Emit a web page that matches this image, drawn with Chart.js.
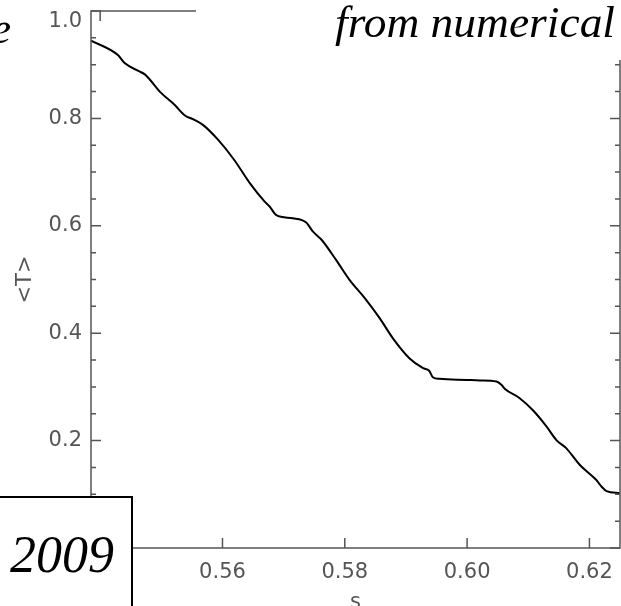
<!DOCTYPE html>
<html><head><meta charset="utf-8">
<script src="https://cdn.jsdelivr.net/npm/chart.js@4"></script>
<style>html,body{margin:0;padding:0;background:#fff;overflow:hidden}#wrap{width:621px;height:606px;position:relative}</style>
</head><body><div id="wrap"><canvas id="c" width="621" height="606"></canvas></div>
<script>
const sValues = [0.5385, 0.5429, 0.5440, 0.5465, 0.5473, 0.5500, 0.5522, 0.5538, 0.5555, 0.5568, 0.5593, 0.5619, 0.5645, 0.5669, 0.5677, 0.5688, 0.5715, 0.5737, 0.5748, 0.5762, 0.5786, 0.5808, 0.5833, 0.5857, 0.5879, 0.5906, 0.5928, 0.5938, 0.5944, 0.5955, 0.5999, 0.6021, 0.6048, 0.6056, 0.6062, 0.6086, 0.6108, 0.6130, 0.6146, 0.6162, 0.6184, 0.6211, 0.6220, 0.6228, 0.6250];
const tValues = [0.945, 0.918, 0.903, 0.887, 0.882, 0.847, 0.825, 0.806, 0.797, 0.788, 0.760, 0.723, 0.679, 0.645, 0.636, 0.620, 0.614, 0.606, 0.589, 0.574, 0.536, 0.499, 0.465, 0.428, 0.390, 0.353, 0.335, 0.330, 0.318, 0.315, 0.313, 0.312, 0.310, 0.304, 0.296, 0.279, 0.256, 0.226, 0.201, 0.186, 0.155, 0.127, 0.114, 0.106, 0.102];
const xTickValues = [0.54, 0.56, 0.58, 0.60, 0.62];
const yTickValues = [0.0, 0.2, 0.4, 0.6, 0.8, 1.0];
const yMinorValues = [0.05,0.1,0.15,0.25,0.3,0.35,0.45,0.5,0.55,0.65,0.7,0.75,0.85,0.9,0.95];
const xTitle = 's';
const yTitle = '<T>';
const headText = 'from numerical';
const leftFragment = 'e';
const yearText = '2009';

const FRAME = '#555';
const LABEL = '#555';
const FONT = 'DejaVu Sans';
const SERIF = '"Liberation Serif", "Times New Roman", Times, serif';

const overlay = {
  id: 'overlay',
  afterDraw(chart) {
    const ctx = chart.ctx, xs = chart.scales.x, ys = chart.scales.y, a = chart.chartArea;
    ctx.save();
    ctx.strokeStyle = FRAME; ctx.lineWidth = 1.5;
    ctx.beginPath();
    ctx.rect(a.left, a.top, a.right - a.left, a.bottom - a.top);
    ctx.stroke();
    ctx.beginPath();
    yTickValues.forEach(v => {
      const y = ys.getPixelForValue(v);
      ctx.moveTo(a.left, y); ctx.lineTo(a.left + 10, y);
      ctx.moveTo(a.right, y); ctx.lineTo(a.right - 10, y);
    });
    yMinorValues.forEach(v => {
      const y = ys.getPixelForValue(v);
      ctx.moveTo(a.left, y); ctx.lineTo(a.left + 5, y);
      ctx.moveTo(a.right, y); ctx.lineTo(a.right - 5, y);
    });
    xTickValues.forEach(v => {
      const x = xs.getPixelForValue(v);
      ctx.moveTo(x, a.bottom); ctx.lineTo(x, a.bottom - 10);
      ctx.moveTo(x, a.top); ctx.lineTo(x, a.top + 10);
    });
    ctx.stroke();
    // axis titles
    ctx.fillStyle = LABEL;
    ctx.font = '21px "' + FONT + '"';
    ctx.textAlign = 'center'; ctx.textBaseline = 'alphabetic';
    ctx.fillText(xTitle, (a.left + a.right) / 2, 608);
    ctx.save();
    ctx.translate(31, (a.top + a.bottom) / 2);
    ctx.rotate(-Math.PI / 2);
    ctx.fillText(yTitle, 0, 0);
    ctx.restore();
    // white text box at top right
    ctx.fillStyle = '#fff';
    ctx.fillRect(196, 0, 430, 60);
    ctx.fillStyle = '#000';
    ctx.font = 'italic 44px ' + SERIF;
    ctx.textAlign = 'left';
    const w = ctx.measureText(headText).width;
    ctx.save();
    ctx.translate(335, 37);
    ctx.scale(280 / w, 1);
    ctx.fillText(headText, 0, 0);
    ctx.restore();
    ctx.textAlign = 'right';
    ctx.fillText(leftFragment, 11, 43);
    // year box
    ctx.fillStyle = '#fff';
    ctx.fillRect(-5, 497, 137, 120);
    ctx.strokeStyle = '#000'; ctx.lineWidth = 2;
    ctx.strokeRect(-5, 497, 137, 120);
    ctx.fillStyle = '#000';
    ctx.font = 'italic 52px ' + SERIF;
    ctx.textAlign = 'left';
    ctx.fillText(yearText, 10, 572);
    ctx.restore();
  }
};

function build() {
  new Chart(document.getElementById('c'), {
    type: 'line',
    data: {
      datasets: [{
        data: sValues.map((s, i) => ({ x: s, y: tValues[i] })),
        borderColor: '#000', borderWidth: 2, pointRadius: 0,
        cubicInterpolationMode: 'monotone', fill: false
      }]
    },
    options: {
      responsive: false, animation: false,
      layout: { padding: { top: 11, right: 1, left: 0, bottom: 0 } },
      plugins: { legend: { display: false }, tooltip: { enabled: false } },
      scales: {
        x: {
          type: 'linear', min: 0.5385, max: 0.625,
          afterBuildTicks: s => { s.ticks = xTickValues.map(v => ({ value: v })); },
          afterFit: s => { s.height = 58; s.paddingLeft = 0; s.paddingRight = 0; },
          grid: { display: false, drawTicks: false },
          border: { display: false },
          ticks: { callback: v => v.toFixed(2), font: { family: FONT, size: 21 }, color: LABEL, padding: 12, maxRotation: 0, autoSkip: false }
        },
        y: {
          type: 'linear', min: 0, max: 1,
          afterBuildTicks: s => { s.ticks = yTickValues.map(v => ({ value: v })); },
          afterFit: s => { s.width = 91; s.paddingTop = 0; s.paddingBottom = 0; },
          grid: { display: false, drawTicks: false },
          border: { display: false },
          ticks: { callback: v => (v === 1 ? ['', v.toFixed(1)] : v.toFixed(1)), font: { family: FONT, size: 21, lineHeight: 1.0 }, color: LABEL, padding: 9, autoSkip: false }
        }
      }
    },
    plugins: [overlay]
  });
}
Promise.all([
  document.fonts.load('italic 40px "Liberation Serif"'),
  document.fonts.load('21px "DejaVu Sans"')
]).then(build, build);
</script>
</body></html>
